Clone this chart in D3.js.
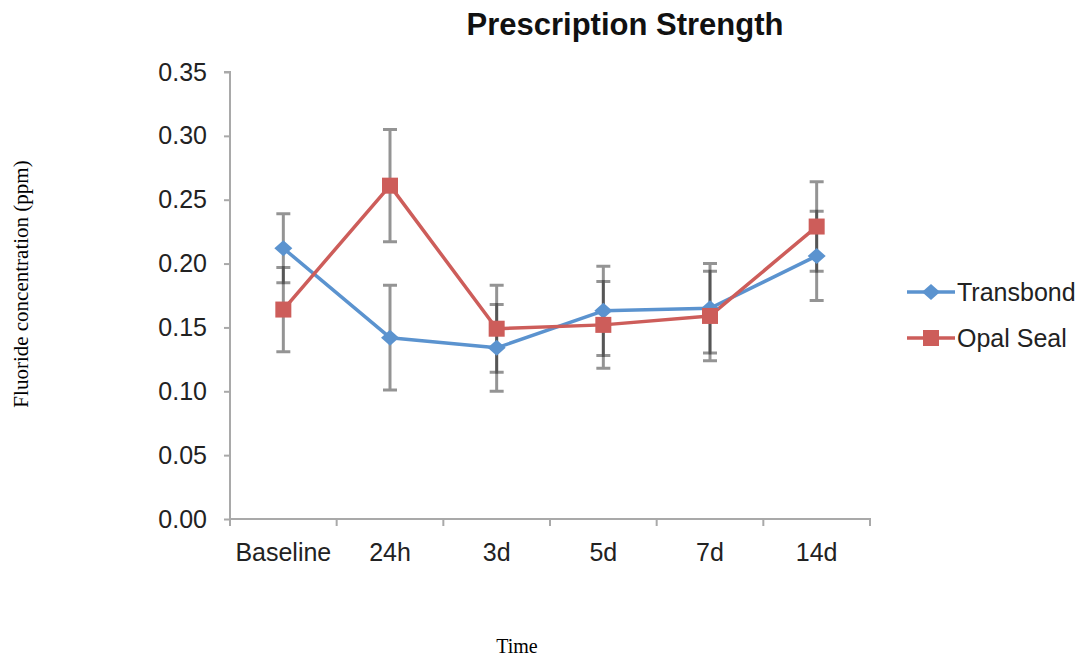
<!DOCTYPE html>
<html>
<head>
<meta charset="utf-8">
<script src="https://cdn.jsdelivr.net/npm/d3@7"></script>
<style>
  html, body { margin: 0; padding: 0; background: #fff; }
  svg { display: block; }
</style>
</head>
<body>
<div id="chart"></div>
<script>
// data
const categories = ["Baseline", "24h", "3d", "5d", "7d", "14d"];
const transbond = [0.212, 0.142, 0.134, 0.163, 0.165, 0.206];
const transbondErr = [0.027, 0.041, 0.034, 0.035, 0.035, 0.035];
const opalSeal = [0.164, 0.261, 0.149, 0.152, 0.159, 0.229];
const opalSealErr = [0.033, 0.044, 0.034, 0.034, 0.035, 0.035];
const yTicks = [0, 0.05, 0.10, 0.15, 0.20, 0.25, 0.30, 0.35];

const W = 1088, H = 662;
const plot = { left: 230, right: 870, top: 72, bottom: 519 };

const series = [
  { name: "Transbond", values: transbond, err: transbondErr, color: "#5b93cf", shape: "diamond" },
  { name: "Opal Seal", values: opalSeal, err: opalSealErr, color: "#cd5d5a", shape: "square" }
];

const svg = d3.select("#chart").append("svg")
  .attr("width", W)
  .attr("height", H);

const x = d3.scaleBand()
  .domain(categories)
  .range([plot.left, plot.right]);

const y = d3.scaleLinear()
  .domain([0, 0.35])
  .range([plot.bottom, plot.top]);

const cx = d => x(d) + x.bandwidth() / 2;

// title
svg.append("text")
  .attr("x", 625)
  .attr("y", 35)
  .attr("text-anchor", "middle")
  .style("font-family", "'Liberation Sans', Arial, sans-serif")
  .style("font-weight", "bold")
  .style("font-size", "31px")
  .style("fill", "#111")
  .text("Prescription Strength");

// y axis
const yAxis = svg.append("g")
  .attr("transform", `translate(${plot.left},0)`)
  .call(d3.axisLeft(y).tickValues(yTicks).tickFormat(d3.format(".2f")).tickSize(6).tickPadding(17));

// x axis
const xAxis = svg.append("g")
  .attr("transform", `translate(0,${plot.bottom})`)
  .call(d3.axisBottom(x).tickSize(0).tickPadding(24));

// x ticks sit on category boundaries
const bounds = categories.map(c => x(c)).concat([plot.right]);
xAxis.selectAll(".bound")
  .data(bounds)
  .enter()
  .append("line")
  .attr("class", "bound")
  .attr("x1", d => d)
  .attr("x2", d => d)
  .attr("y1", 0)
  .attr("y2", 7);

[yAxis, xAxis].forEach(g => {
  g.select(".domain").attr("stroke", "#a9a9a9").attr("stroke-width", 2);
  g.selectAll("line").attr("stroke", "#a9a9a9").attr("stroke-width", 2);
  g.selectAll("text")
    .style("font-family", "'Liberation Sans', Arial, sans-serif")
    .style("font-size", "25px")
    .style("fill", "#222");
});
yAxis.select(".domain").attr("d", `M-6,${plot.top}H0V${plot.bottom}`);
xAxis.select(".domain").attr("d", `M${plot.left},0H${plot.right}V7`);

// axis titles
svg.append("text")
  .attr("transform", "translate(28,284) rotate(-90)")
  .attr("text-anchor", "middle")
  .style("font-family", "'Liberation Serif', 'Times New Roman', serif")
  .style("font-size", "21px")
  .style("fill", "#000")
  .text("Fluoride concentration (ppm)");

svg.append("text")
  .attr("x", 517)
  .attr("y", 653)
  .attr("text-anchor", "middle")
  .style("font-family", "'Liberation Serif', 'Times New Roman', serif")
  .style("font-size", "20px")
  .style("fill", "#000")
  .text("Time");

// error bars
const capW = 7;
series.forEach(s => {
  const g = svg.append("g")
    .attr("stroke", "#000")
    .attr("stroke-opacity", 0.42)
    .attr("stroke-width", 3);
  categories.forEach((c, i) => {
    const lo = y(s.values[i] - s.err[i]);
    const hi = y(s.values[i] + s.err[i]);
    const px = cx(c);
    g.append("path")
      .attr("fill", "none")
      .attr("d", `M${px},${hi}V${lo}M${px - capW},${hi}H${px + capW}M${px - capW},${lo}H${px + capW}`);
  });
});

// lines
const line = d3.line()
  .x((d, i) => cx(categories[i]))
  .y(d => y(d));

series.forEach(s => {
  svg.append("path")
    .datum(s.values)
    .attr("fill", "none")
    .attr("stroke", s.color)
    .attr("stroke-width", 3.5)
    .attr("stroke-linejoin", "round")
    .attr("d", line);
});

function marker(g, shape, px, py, color) {
  if (shape === "diamond") {
    g.append("path")
      .attr("d", `M${px - 9},${py}L${px},${py - 8}L${px + 9},${py}L${px},${py + 8}Z`)
      .attr("fill", color);
  } else {
    g.append("rect")
      .attr("x", px - 8)
      .attr("y", py - 8)
      .attr("width", 16)
      .attr("height", 16)
      .attr("fill", color);
  }
}

series.forEach(s => {
  const g = svg.append("g");
  s.values.forEach((v, i) => marker(g, s.shape, cx(categories[i]), y(v), s.color));
});

// legend
const legend = svg.append("g");
series.forEach((s, i) => {
  const ly = 292 + i * 46;
  legend.append("line")
    .attr("x1", 907)
    .attr("x2", 955)
    .attr("y1", ly)
    .attr("y2", ly)
    .attr("stroke", s.color)
    .attr("stroke-width", 3.5);
  marker(legend, s.shape, 931, ly, s.color);
  legend.append("text")
    .attr("x", 957)
    .attr("y", ly + 9)
    .style("font-family", "'Liberation Sans', Arial, sans-serif")
    .style("font-size", "25px")
    .style("fill", "#222")
    .text(s.name);
});
</script>
</body>
</html>
